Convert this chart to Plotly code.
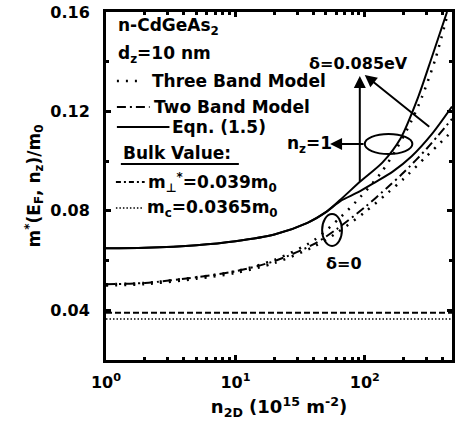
import plotly.graph_objects as go

# ---------------- data ----------------
n2d_eqn_d085 = [1, 2, 5, 10, 20, 36, 50, 65, 92, 137, 188, 259, 330, 431]
m_eqn_d085 = [0.065, 0.0652, 0.0662, 0.0678, 0.0705, 0.0752, 0.0795, 0.0846, 0.0918, 0.0995, 0.109, 0.126, 0.142, 0.160]

n2d_eqn_d0 = [1, 2, 5, 10, 20, 36, 50, 65, 88, 120, 164, 230, 330, 471]
m_eqn_d0 = [0.065, 0.0652, 0.0662, 0.0678, 0.0705, 0.0752, 0.0795, 0.0840, 0.0874, 0.0915, 0.0958, 0.102, 0.111, 0.122]

n2d_three_d085 = [1, 2, 5, 10, 20, 40, 65, 92, 134, 178, 228, 277, 350, 440]
m_three_d085 = [0.0505, 0.051, 0.0533, 0.0557, 0.0603, 0.068, 0.0775, 0.0855, 0.0955, 0.1055, 0.116, 0.126, 0.141, 0.160]

n2d_low = [1, 2, 5, 10, 20, 40, 60, 100, 150, 200, 300, 471]
m_two = [0.0505, 0.051, 0.0533, 0.0557, 0.0598, 0.0665, 0.0725, 0.0815, 0.0895, 0.0955, 0.105, 0.117]
m_three_d0 = [0.0500, 0.0505, 0.0527, 0.055, 0.059, 0.0655, 0.071, 0.0795, 0.0872, 0.093, 0.102, 0.112]

n2d_bulk = [1, 471]
m_perp_bulk = [0.039, 0.039]
m_c_bulk = [0.0365, 0.0365]

x_tickvals = [1, 10, 100]
x_ticktext = ["10<sup>0</sup>", "10<sup>1</sup>", "10<sup>2</sup>"]
x_minor = [2, 3, 4, 5, 6, 7, 8, 9, 20, 30, 40, 50, 60, 70, 80, 90, 200, 300, 400]
y_tickvals = [0.04, 0.08, 0.12, 0.16]
y_ticktext = ["0.04", "0.08", "0.12", "0.16"]
y_minor = [0.06, 0.10, 0.14]

# ---------------- layout geometry ----------------
W, H = 458, 434
L, R, T, B = 106, 455, 12, 360
FONT = "DejaVu Sans"


def P(px, py):
    return (px - L) / (R - L), (B - py) / (B - T)


fig = go.Figure()

DOT3 = "2px,7px"
DASHDOT = "9px,4px,2px,4px"

def add(x, y, dash, width=2):
    fig.add_trace(go.Scatter(x=x, y=y, mode="lines",
                             line=dict(color="black", width=width, dash=dash,
                                       shape="spline", smoothing=0.8),
                             showlegend=False, hoverinfo="skip"))

add(n2d_eqn_d085, m_eqn_d085, "solid")
add(n2d_eqn_d0, m_eqn_d0, "solid")
add(n2d_three_d085, m_three_d085, DOT3, 2.5)
add(n2d_low, m_two, DASHDOT)
add(n2d_low, m_three_d0, DOT3, 2.5)
add(n2d_bulk, m_perp_bulk, "6px,3px", 2)
add(n2d_bulk, m_c_bulk, "1.5px,2px", 1.5)

shapes = []
annos = []

def text(px, py, s, size=17, xanchor="left", bold=True):
    x, y = P(px, py)
    annos.append(dict(x=x, y=y, xref="paper", yref="paper", text=s, showarrow=False,
                      xanchor=xanchor, yanchor="middle",
                      font=dict(family=FONT, size=size, color="black",
                                weight="bold" if bold else "normal")))

def seg(px0, py0, px1, py1, dash="solid", width=2):
    x0, y0 = P(px0, py0)
    x1, y1 = P(px1, py1)
    shapes.append(dict(type="line", xref="paper", yref="paper", x0=x0, y0=y0, x1=x1, y1=y1,
                       line=dict(color="black", width=width, dash=dash)))

def ellipse(cx, cy, rx, ry):
    x0, y0 = P(cx - rx, cy + ry)
    x1, y1 = P(cx + rx, cy - ry)
    shapes.append(dict(type="circle", xref="paper", yref="paper", x0=x0, y0=y0, x1=x1, y1=y1,
                       line=dict(color="black", width=2)))

def arrow(hx, hy, tx, ty):
    x, y = P(hx, hy)
    annos.append(dict(x=x, y=y, xref="paper", yref="paper", ax=tx - hx, ay=ty - hy,
                      axref="pixel", ayref="pixel", showarrow=True, arrowhead=2,
                      arrowsize=1.2, arrowwidth=2, arrowcolor="black", text=""))

# legend block
text(116, 26, "n-CdGeAs<sub>2</sub>")
text(116, 54, "d<sub>z</sub>=10 nm")
seg(117, 81, 141, 81, DOT3, 2.5)
text(150, 81, "Three Band Model")
seg(117, 107, 150, 107, DASHDOT)
text(152, 107, "Two Band Model")
seg(117, 127, 170, 127, "solid")
text(171, 127, "Eqn. (1.5)")
text(121, 153, "Bulk Value:")
seg(121, 164, 240, 164, "solid", 2)
seg(116, 182, 145, 182, "5px,3px,2px,3px", 2)
text(146, 182, "m<sub>⊥</sub><sup>*</sup>=0.039m<sub>0</sub>")
seg(116, 208, 143, 208, "1.5px,2px", 1.5)
text(145, 208, "m<sub>c</sub>=0.0365m<sub>0</sub>")

# annotations in plot
text(361, 63, "δ=0.085eV", size=16, xanchor="center")
arrow(362, 76, 362, 183)
arrow(367, 75, 433, 128)
ellipse(391, 144, 24, 10)
text(311, 144, "n<sub>z</sub>=1", xanchor="center")
arrow(332, 144, 367, 144)
ellipse(334, 230, 10, 16)
text(346, 263, "δ=0", size=16, xanchor="center")

fig.update_layout(
    width=W, height=H,
    margin=dict(l=L, r=W - R, t=T, b=H - B),
    paper_bgcolor="white", plot_bgcolor="white",
    shapes=shapes, annotations=annos,
    font=dict(family=FONT, color="black", size=16),
)

fig.update_xaxes(
    type="log", range=[0, 2.673],
    tickmode="array", tickvals=x_tickvals, ticktext=x_ticktext,
    ticks="inside", ticklen=5, tickwidth=3, tickcolor="black",
    minor=dict(tickmode="array", tickvals=x_minor, ticks="inside", ticklen=3,
               tickwidth=3, tickcolor="black", showgrid=False),
    showline=True, linewidth=3, linecolor="black", mirror="allticks",
    showgrid=False, zeroline=False,
    tickfont=dict(family=FONT, size=16, weight="bold"),
    ticklabelstandoff=6,
    title=dict(text="n<sub>2D</sub> (10<sup>15</sup> m<sup>-2</sup>)",
               font=dict(family=FONT, size=18, weight="bold"), standoff=10),
)
fig.update_yaxes(
    range=[0.02, 0.16],
    tickmode="array", tickvals=y_tickvals, ticktext=y_ticktext,
    ticks="inside", ticklen=5, tickwidth=3, tickcolor="black",
    minor=dict(tickmode="array", tickvals=y_minor, ticks="inside", ticklen=3,
               tickwidth=3, tickcolor="black", showgrid=False),
    showline=True, linewidth=3, linecolor="black", mirror="allticks",
    showgrid=False, zeroline=False,
    tickfont=dict(family=FONT, size=16, weight="bold"),
    ticklabelstandoff=10,
    title=dict(text="m<sup>*</sup>(E<sub>F</sub>, n<sub>z</sub>)/m<sub>0</sub>",
               font=dict(family=FONT, size=17, weight="bold"), standoff=6),
)

fig.write_html("out.html")
